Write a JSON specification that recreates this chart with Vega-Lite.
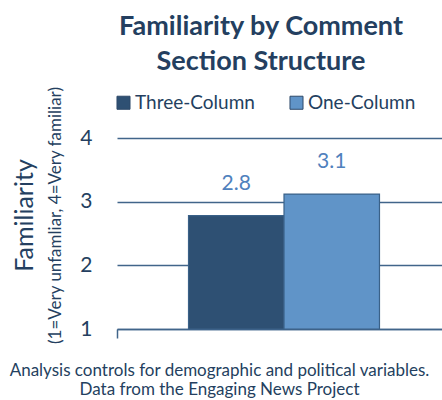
{
  "$schema": "https://vega.github.io/schema/vega-lite/v6.json",
  "autosize": {"type": "none"},
  "padding": {"left": 117, "top": 138, "right": 0, "bottom": 71},
  "width": 334,
  "height": 191,
  "background": "white",
  "config": {
    "view": {"stroke": null},
    "font": "Lato"
  },
  "title": {
    "text": ["Familiarity by Comment", "Section Structure"],
    "font": "Lato",
    "fontSize": 27,
    "fontWeight": "bold",
    "color": "#243f60",
    "anchor": "middle",
    "frame": "group",
    "dx": -23,
    "lineHeight": 35,
    "offset": 10
  },
  "data": {
    "values": [
      {"group": "All", "series": "Three-Column", "value": 2.78},
      {"group": "All", "series": "One-Column", "value": 3.12}
    ]
  },
  "encoding": {
    "x": {
      "field": "group",
      "type": "nominal",
      "scale": {"paddingInner": 0, "paddingOuter": 0},
      "axis": {
        "labels": false,
        "domainColor": "#41658a",
        "domainWidth": 1.5,
        "tickColor": "#41658a",
        "tickWidth": 1.5,
        "tickSize": 9,
        "bandPosition": 0,
        "title": ["Analysis controls for demographic and political variables.", "Data from the Engaging News Project"],
        "titleFont": "Lato",
        "titleFontSize": 17,
        "titleFontWeight": "normal",
        "titleColor": "#243f60",
        "titleLineHeight": 19,
        "titleAnchor": "start",
        "titleAlign": "center",
        "titleX": 102,
        "titleY": 46,
        "titleBaseline": "alphabetic"
      }
    },
    "xOffset": {
      "field": "series",
      "type": "nominal",
      "sort": ["Three-Column", "One-Column"],
      "scale": {"paddingInner": 0, "paddingOuter": 0.749}
    },
    "y": {
      "field": "value",
      "type": "quantitative",
      "scale": {"domain": [1, 4], "nice": false, "zero": false}
    }
  },
  "layer": [
    {
      "mark": {"type": "bar", "strokeWidth": 1.2},
      "encoding": {
        "y": {
          "field": "value",
          "type": "quantitative",
          "scale": {"domain": [1, 4], "nice": false, "zero": false},
          "axis": {
            "values": [1, 2, 3, 4],
            "domain": false,
            "ticks": false,
            "grid": true,
            "gridColor": "#41658a",
            "gridWidth": 1.5,
            "labelFont": "Lato",
            "labelFontSize": 21,
            "labelColor": "#243f60",
            "labelPadding": 25,
            "title": "(1=Very unfamliar, 4=Very familiar)",
            "titleFont": "Lato",
            "titleFontSize": 17,
            "titleFontWeight": "normal",
            "titleColor": "#243f60",
            "titleX": -62,
            "titleY": 77,
            "titleAngle": -90,
            "titleAlign": "center",
            "titleBaseline": "middle"
          }
        },
        "y2": {"datum": 1},
        "color": {
          "field": "series",
          "type": "nominal",
          "sort": ["Three-Column", "One-Column"],
          "scale": {"domain": ["Three-Column", "One-Column"], "range": ["#2e5073", "#6094c8"]},
          "legend": {
            "title": null,
            "orient": "none",
            "direction": "horizontal",
            "legendX": -3,
            "legendY": -45,
            "symbolType": "square",
            "symbolSize": 170,
            "symbolStrokeColor": "#2e4a6a",
            "symbolStrokeWidth": 1,
            "symbolOpacity": 1,
            "labelFont": "Lato",
            "labelFontSize": 19,
            "labelColor": "#243f60",
            "labelOffset": 2,
            "columnPadding": 32
          }
        },
        "stroke": {"value": "#3a6188"}
      }
    },
    {
      "mark": {"type": "text", "dy": -26, "baseline": "alphabetic", "fontSize": 21, "color": "#4f81bd", "font": "Lato"},
      "encoding": {
        "text": {"field": "value", "type": "quantitative", "format": ".1f"},
        "y": {
          "field": "value",
          "type": "quantitative",
          "scale": {"domain": [1, 4], "nice": false, "zero": false},
          "axis": {
            "orient": "left",
            "labels": false,
            "domain": false,
            "ticks": false,
            "grid": false,
            "title": "Familiarity",
            "titleFont": "Lato",
            "titleFontSize": 25,
            "titleFontWeight": "normal",
            "titleColor": "#243f60",
            "titleX": -93,
            "titleY": 77,
            "titleAngle": -90,
            "titleAlign": "center",
            "titleBaseline": "middle"
          }
        }
      }
    }
  ],
  "resolve": {"axis": {"y": "independent"}}
}
